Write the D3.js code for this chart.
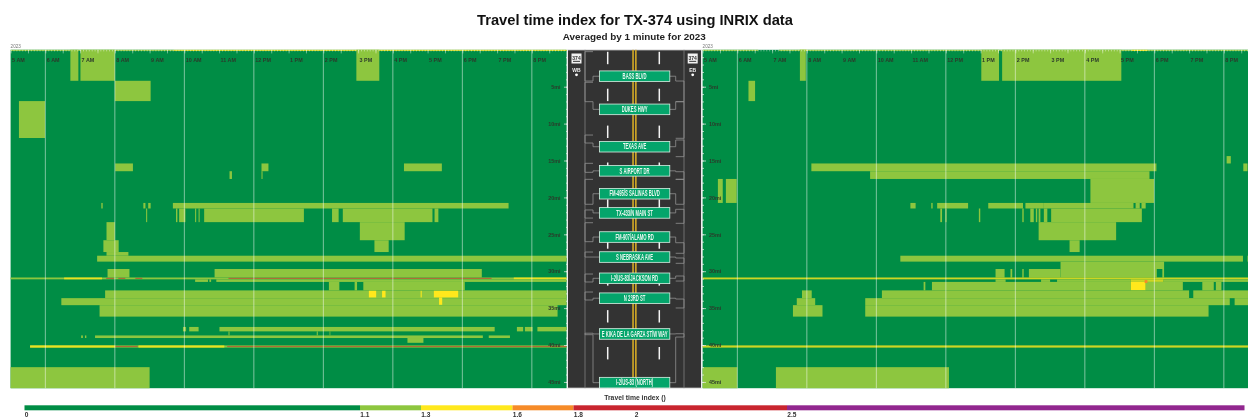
<!DOCTYPE html>
<html><head><meta charset="utf-8">
<script src="https://cdn.jsdelivr.net/npm/d3@7"></script>
<style>html,body{margin:0;padding:0;background:#fff;overflow:hidden}svg{display:block;filter:blur(.3px)}text{font-family:"Liberation Sans",Arial,sans-serif}</style>
</head><body><svg id="c" width="1248" height="417"></svg>
<script>
const titleText="Travel time index for TX-374 using INRIX data";
const subtitleText="Averaged by 1 minute for 2023";
const legendTitle="Travel time index ()";
const yearLabel="2023";
const hourLabels=["5 AM","6 AM","7 AM","8 AM","9 AM","10 AM","11 AM","12 PM","1 PM","2 PM","3 PM","4 PM","5 PM","6 PM","7 PM","8 PM"];
const gridHours=[6,8,10,12,14,16,18,20];
const mileTicks=[5,10,15,20,25,30,35,40,45];
const legendTicks=[0,1.1,1.3,1.6,1.8,2,2.5];
const legendStops=[0,1.1,1.3,1.6,1.8,2.5,4];
const palette=["#008D45","#8DC63F","#FFE81C","#F68B28","#C9252F","#92278F"];
const signNames=["BASS BLVD","DUKES HWY","TEXAS AVE","S AIRPORT DR","FM-495/S SALINAS BLVD","TX-433/N MAIN ST","FM-907/ALAMO RD","S NEBRASKA AVE","I-2/US-83/JACKSON RD","N 23RD ST","E KIKA DE LA GARZA ST/W WAY","I-2/US-83 (NORTH)"];
const signMiles=[3.58,8.07,13.13,16.4,19.5,22.1,25.37,28.08,30.96,33.66,38.5,45.1];
const wbRamps=[[.25,4.23],[4.4,7.03],[11.55,12.63],[15.38,16.6],[17.55,20.93],[21.7,22.8],[23.43,26],[27.4,28.08],[30.38,31.46],[32.82,33.9],[38.4,38.6]];
const ebRamps=[[4.23,7.03],[7.03,11.99],[12.22,14.48],[16.52,17.55],[17.55,20.93],[21.61,23.51],[26.14,27.57],[28.21,28.93],[30.65,31.33],[33.77,34.98],[38.47,38.92]];
// rows: [mile from, mile to, travel time index, [start hour, end hour, ...]]
const wbRows=[
[0,.16,1.2,[5,9.7]],[0,.16,1.4,[9.7,16.3,16.3,18.2,18.2,21]],
[0,4.2,1.2,[6.72,6.95,7.01,8,14.95,15.61]],
[4.2,6.95,1.2,[8,9.03]],
[6.95,11.95,1.2,[5.24,5.99]],
[15.4,16.45,1.2,[8.01,8.52,12.22,12.42,16.32,17.41]],
[16.45,17.5,1.2,[11.3,11.37,12.22,12.25]],
[20.75,21.5,1.2,[7.61,7.65,8.82,8.88,8.96,9.03,9.67,19.33]],
[21.5,23.35,1.2,[8.9,8.93,9.76,9.8,9.85,10.03,10.31,10.34,10.41,10.44,10.57,13.44,14.25,14.44,14.56,17.14,17.2,17.31]],
[23.35,25.8,1.2,[7.76,8,15.05,16.34]],
[25.8,27.4,1.2,[7.67,8.11,15.47,15.88]],
[27.4,27.9,1.2,[7.76,8.39]],
[27.9,28.7,1.2,[7.49,21]],
[29.7,30.85,1.2,[7.79,8.42,10.87,18.56]],
[30.85,31.1,1.2,[5,21]],
[30.85,31.1,1.4,[6.54,7.63,19.48,21]],
[30.9,31.05,1.9,[7.75,7.98,8.1,8.3,8.59,8.79,11.27,18.84]],
[31.1,31.45,1.2,[10.31,10.68,10.72,10.77,10.92,21]],
[31.45,32.6,1.2,[14.16,14.46,14.9,14.97,15.15,18.07]],
[32.6,33.65,1.2,[7.72,21]],
[33.65,34.6,1.2,[6.46,21]],
[34.6,36.15,1.2,[7.56,20.74]],
[32.65,33.55,1.4,[15.31,15.52,15.69,15.79,16.8,16.83,17.18,17.88]],
[33.55,34.55,1.4,[17.33,17.42]],
[37.55,38.15,1.2,[9.96,10.05,10.14,10.41,11.01,18.93,19.57,19.75,19.8,20.02,20.16,21]],
[38.15,38.7,1.2,[11.27,11.3,13.81,13.84,14.18,14.2]],
[38.7,39.05,1.2,[7.03,7.08,7.14,7.18,7.43,18.59,18.76,19.37]],
[39.05,39.7,1.2,[16.42,16.88]],
[40.05,40.35,1.2,[5.56,21]],
[40.05,40.35,1.4,[5.56,8.01,8.68,11.15]],
[40.12,40.28,1.9,[8.01,8.66,11.23,21]],
[43,45.85,1.2,[5,9]]
];
const ebRows=[
[0,.16,1.2,[5,6.6,7.2,21]],[0,.16,1.4,[7.8,8,15.9,16.1,17.35,17.8]],
[0,4.2,1.2,[7.8,7.97,13.02,13.53,13.62,17.05]],
[4.2,6.95,1.2,[6.32,6.51]],
[14.4,15.4,1.2,[20.08,20.2]],
[15.4,16.45,1.2,[8.13,18.06,20.56,20.68]],
[16.45,17.5,1.2,[9.82,17.86]],
[17.5,20.75,1.2,[5.44,5.58,5.67,5.98,16.16,17.99]],
[20.75,21.5,1.2,[10.98,11.13,11.58,11.62,11.75,12.64,13.22,14.22,14.29,14.82,14.82,17.4,17.46,17.58,17.63,17.75]],
[21.5,23.35,1.2,[11.84,11.89,11.99,12.02,12.95,12.99,14.2,14.24,14.43,14.53,14.59,14.63,14.67,14.72,14.82,14.92,15.03,17.64]],
[23.35,25.8,1.2,[14.67,16.9]],
[25.8,27.4,1.2,[15.56,15.85]],
[27.9,28.7,1.2,[10.69,20.55,20.68,21]],
[28.7,29.7,1.2,[15.3,18.28]],
[29.7,30.85,1.2,[13.43,13.69,13.86,13.91,14.2,14.24,14.39,15.3,15.3,18.07,18.23,18.28]],
[30.85,31.1,1.4,[5,21]],
[31.1,31.45,1.2,[13.43,13.72,14.74,15,15.2,17.32,18.26,21]],
[31.1,31.45,1.4,[17.32,18.26]],
[31.45,32.6,1.2,[11.36,11.41,11.6,17.32,17.75,18.82,19.38,19.71,19.77,19.93]],
[31.45,32.6,1.4,[17.32,17.75]],
[31.2,31.6,1.7,[17.72,17.8]],
[32.6,33.65,1.2,[7.86,8.14,10.16,19,19.12,21]],
[33.65,34.6,1.2,[7.71,8.24,9.68,20.17,20.31,21]],
[34.6,36.15,1.2,[7.6,8.45,9.68,19.56]],
[40.05,40.35,1.4,[5,21]],
[43,45.85,1.2,[5,6,7.11,12.09]]
];
const svg=d3.select("#c");
const y=d3.scaleLinear().domain([0,45.85]).range([49.8,388.2]);
const xW=d3.scaleLinear().domain([5,21]).range([10.6,566.6]);
const xE=d3.scaleLinear().domain([5,21]).range([702.6,1258.6]);
const col=d3.scaleThreshold().domain(legendStops.slice(1,6)).range(palette);
const defs=svg.append("defs");
defs.append("clipPath").attr("id","clipE").append("rect").attr("x",702).attr("y",0).attr("width",546).attr("height",417);

function panel(x,rows,side){
  const g=svg.append("g").attr("clip-path",side==="E"?"url(#clipE)":null);
  g.append("rect").attr("x",x(5)).attr("y",y(0)).attr("width",x(21)-x(5)).attr("height",y(45.85)-y(0)).attr("fill",col(1));
  const cells=rows.flatMap(r=>d3.range(0,r[3].length,2).map(i=>({a:r[0],b:r[1],t:r[2],s:r[3][i],e:r[3][i+1]})));
  g.selectAll("rect.cell").data(cells).join("rect").attr("class","cell")
    .attr("x",d=>x(d.s)).attr("width",d=>x(d.e)-x(d.s)).attr("y",d=>y(d.a)).attr("height",d=>y(d.b)-y(d.a)).attr("fill",d=>col(d.t))
    .attr("fill-opacity",d=>d.t>1.8?.55:(d.t>1.3&&d.b-d.a<.4?.8:1));
  g.selectAll("line.grid").data(gridHours).join("line").attr("class","grid")
    .attr("x1",x).attr("x2",x).attr("y1",y(0)).attr("y2",y(45.85)).attr("stroke","#fff").attr("stroke-opacity",.55).attr("stroke-width",.9);
  const minor=d3.axisBottom(x).tickValues(d3.range(5,21,1/12)).tickSize(1.6).tickFormat("");
  const mid=d3.axisBottom(x).tickValues(d3.range(5,21,.5)).tickSize(3.6).tickFormat("");
  [minor,mid].forEach(a=>{const t=g.append("g").attr("transform",`translate(0,${y(0)})`).call(a);t.select(".domain").remove();t.selectAll("line").attr("stroke","#fff").attr("stroke-opacity",.7).attr("stroke-width",.6);});
  g.selectAll("text.hr").data(hourLabels).join("text").attr("class","hr")
    .attr("x",(d,i)=>x(5+i)+1.5).attr("y",62).attr("font-size",5.4).attr("font-weight","bold").attr("fill","#2b3a2b").text(d=>d);
  g.append("text").attr("x",x(5)).attr("y",48.4).attr("font-size",4.6).attr("fill","#777").text(yearLabel);
}
panel(xW,wbRows,"W");panel(xE,ebRows,"E");

// road
const road=svg.append("g");
road.append("rect").attr("x",567.5).attr("y",y(0)).attr("width",134).attr("height",y(45.85)-y(0)).attr("fill","#333").attr("stroke","#eee").attr("stroke-width",1);
[585,684].forEach(v=>road.append("line").attr("x1",v).attr("x2",v).attr("y1",y(0)).attr("y2",y(45.85)).attr("stroke","#808080").attr("stroke-width",.8));
[[632.2,1.7],[635,1.7]].forEach(d=>road.append("rect").attr("x",d[0]).attr("width",d[1]).attr("y",y(0)).attr("height",y(45.85)-y(0)).attr("fill","#C9A227"));
[607.7,659.3].forEach(v=>road.selectAll(null).data(d3.range(0,46,5)).join("line")
  .attr("x1",v).attr("x2",v).attr("y1",d=>y(d+.27)).attr("y2",d=>y(Math.min(d+1.95,45.85))).attr("stroke","#f4f4f4").attr("stroke-width",1.5));
function ramps(list,outer,inner){
  road.selectAll(null).data(list).join("path").attr("fill","none").attr("stroke","#8f8f8f").attr("stroke-width",.8)
    .attr("d",d=>`M${inner},${y(d[0])}H${outer}V${y(d[1])}H${inner}`);
}
ramps(wbRamps,585,593);ramps(ebRamps,684,675.7);
function links(list,col,edge){
  const ends=list.flat();
  road.selectAll(null).data(signMiles).join("path").attr("fill","none").attr("stroke","#8f8f8f").attr("stroke-width",.8)
    .attr("d",m=>{const n=d3.least(ends,e=>Math.abs(e-m));return `M${edge},${y(m)}H${col}V${y(n)}`;});
}
links(wbRamps,593,600);links(ebRamps,675.7,670);
const signs=road.selectAll("g.sign").data(signNames).join("g").attr("class","sign").attr("transform",(d,i)=>`translate(634.6,${y(signMiles[i])})`);
signs.append("rect").attr("x",-35.2).attr("y",-5.3).attr("width",70.4).attr("height",10.6).attr("fill","#04A56B").attr("stroke","#d8efe4").attr("stroke-width",.8);
signs.append("text").attr("text-anchor","middle").attr("transform","translate(0,2.7) scale(.57,1.15)").attr("font-size",7.4).attr("font-weight","bold").attr("fill","#e9f7f0").text(d=>d);
[[576.5,"WB"],[692.7,"EB"]].forEach(d=>{
  const g=road.append("g").attr("transform",`translate(${d[0]},0)`);
  g.append("rect").attr("x",-5).attr("y",53.5).attr("width",10).attr("height",10).attr("fill","#f2f2f2");
  g.append("text").attr("text-anchor","middle").attr("y",59.5).attr("font-size",5).attr("font-weight","bold").attr("fill","#333").text("374");
  g.append("rect").attr("x",-3.5).attr("y",60.8).attr("width",7).attr("height",1.2).attr("fill","#555");
  g.append("text").attr("text-anchor","middle").attr("y",72).attr("font-size",5).attr("font-weight","bold").attr("fill","#eee").text(d[1]);
  g.append("circle").attr("cy",74.8).attr("r",1.4).attr("fill","#fff");
});

// mile axes
function mileAxis(gen,tx,pad){
  const minor=gen(y).tickValues(d3.range(1,46)).tickSize(2).tickFormat("");
  const major=gen(y).tickValues(mileTicks).tickSize(4).tickPadding(pad).tickFormat(d=>d+"mi");
  [minor,major].forEach(a=>{const t=svg.append("g").attr("transform",`translate(${tx},0)`).call(a);
    t.select(".domain").remove();t.selectAll("line").attr("stroke","#eee").attr("stroke-width",.7);
    t.selectAll("text").attr("font-size",5.4).attr("fill","#2b3a2b").style("font-family",'"Liberation Sans",sans-serif').style("font-weight","bold");});
}
mileAxis(d3.axisLeft,568,3.5);mileAxis(d3.axisRight,702,3);

// titles
svg.append("text").attr("x",635).attr("y",25.2).attr("text-anchor","middle").attr("font-size",14.7).attr("font-weight","bold").attr("fill","#111").text(titleText);
svg.append("text").attr("x",634.3).attr("y",39.5).attr("text-anchor","middle").attr("font-size",9.9).attr("font-weight","bold").attr("fill","#222").text(subtitleText);
svg.append("text").attr("x",635).attr("y",400).attr("text-anchor","middle").attr("font-size",6.8).attr("font-weight","bold").attr("fill","#333").text(legendTitle);

// legend
const lx=d3.scaleLinear().domain([0,4]).range([24.5,1244.5]);
svg.selectAll("rect.lg").data(palette).join("rect").attr("class","lg")
  .attr("x",(d,i)=>lx(legendStops[i])).attr("width",(d,i)=>lx(legendStops[i+1])-lx(legendStops[i])).attr("y",405.3).attr("height",5).attr("fill",d=>d);
svg.selectAll("text.lt").data(legendTicks).join("text").attr("class","lt")
  .attr("x",d=>lx(d)+.3).attr("y",416.5).attr("font-size",6.6).attr("font-weight","bold").attr("fill","#333").text(d=>d);
</script></body></html>
